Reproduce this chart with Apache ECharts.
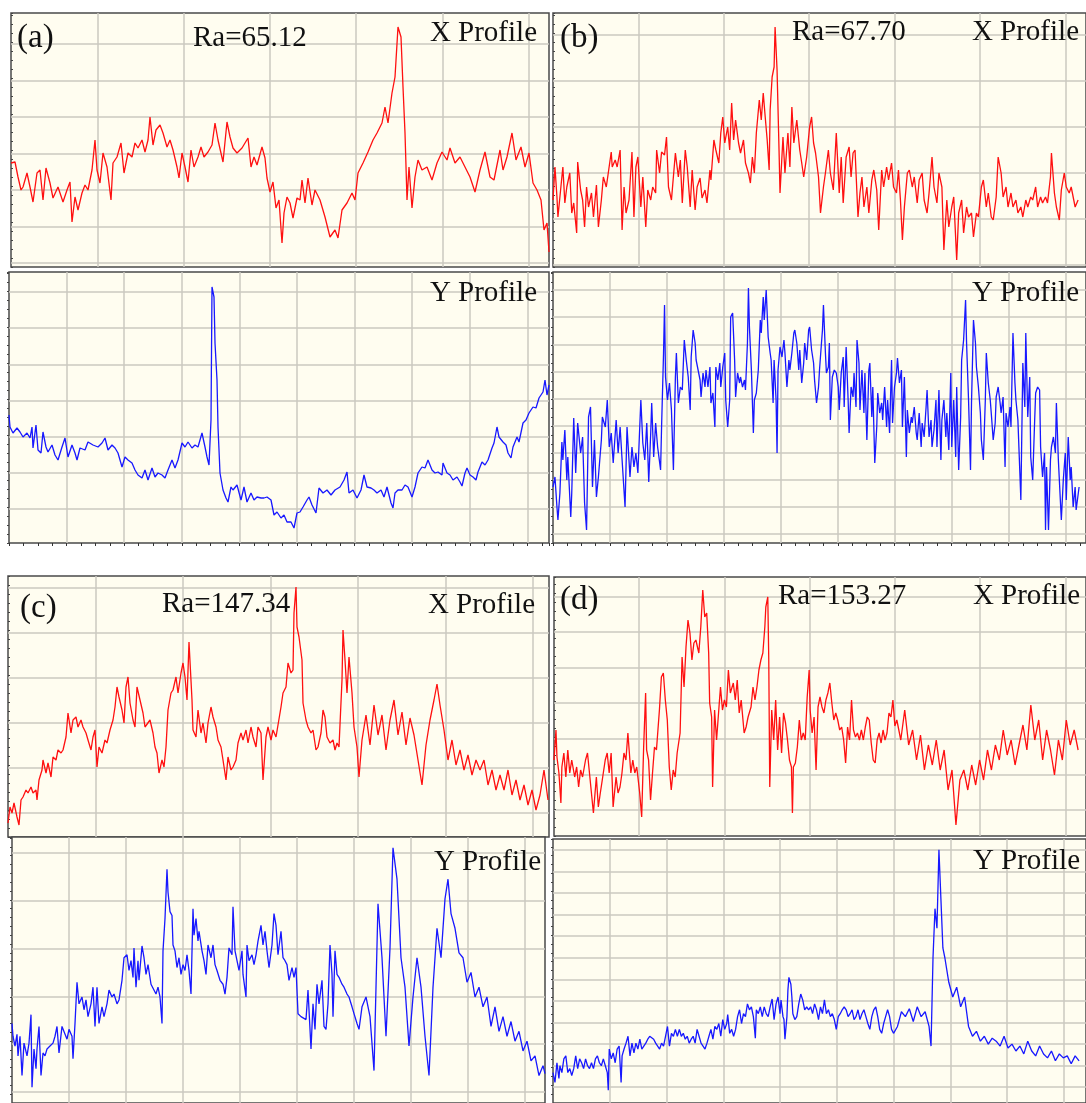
<!DOCTYPE html>
<html><head><meta charset="utf-8">
<script src="https://cdn.jsdelivr.net/npm/echarts@6/dist/echarts.min.js"></script>
<style>html,body{margin:0;padding:0;background:#fff}#c{width:1086px;height:1103px}</style>
</head><body><div id="c"></div>
<script>
// ---- profile data: [distance along profile, height] (arbitrary units)
const aX = [[0,104],[4,105],[7,90],[10,77],[12,80],[16,94],[19,80],[22,65],[26,94],[29,97],[32,67],[35,99],[39,84],[42,69],[47,80],[52,65],[56,77],[59,85],[61,45],[64,70],[67,57],[71,74],[74,82],[77,77],[81,97],[84,127],[86,97],[89,84],[92,114],[96,100],[100,67],[102,104],[106,110],[110,124],[113,94],[117,114],[121,110],[124,124],[127,119],[131,127],[134,115],[137,127],[139,150],[142,122],[145,137],[149,142],[152,134],[156,120],[159,127],[162,117],[166,100],[168,89],[171,114],[174,100],[177,85],[180,117],[183,100],[187,110],[190,120],[193,110],[197,115],[201,122],[204,144],[207,127],[212,105],[216,145],[219,130],[222,119],[226,114],[231,119],[234,124],[237,129],[240,100],[243,110],[246,102],[251,120],[254,109],[256,89],[259,75],[262,85],[265,59],[268,67],[271,24],[273,54],[276,70],[279,64],[282,49],[286,69],[289,67],[291,87],[294,64],[297,89],[301,62],[304,77],[309,67],[314,50],[319,30],[324,37],[327,29],[331,57],[336,64],[341,74],[344,67],[347,94],[352,104],[357,115],[362,127],[366,134],[371,144],[374,160],[377,144],[381,174],[384,190],[387,240],[390,230],[392,180],[394,134],[396,67],[398,100],[401,59],[404,90],[407,107],[411,97],[416,100],[421,87],[426,104],[431,115],[436,107],[439,119],[444,104],[449,110],[454,100],[459,90],[464,75],[469,97],[474,115],[479,90],[483,87],[489,117],[492,97],[496,110],[501,134],[505,107],[510,120],[514,100],[518,114],[522,84],[526,77],[530,67],[533,37],[536,44],[538,15]];
const aY = [[0,128],[1,116],[4,110],[8,115],[11,111],[14,106],[18,110],[21,105],[23,116],[24,95],[27,118],[29,93],[32,90],[34,111],[37,96],[39,91],[43,98],[46,88],[49,83],[53,96],[56,105],[59,86],[63,98],[66,90],[68,83],[71,95],[76,93],[79,101],[84,98],[89,96],[93,100],[96,105],[99,93],[103,98],[106,95],[109,90],[113,76],[116,86],[119,83],[123,80],[126,73],[129,68],[133,65],[136,73],[139,63],[143,75],[146,66],[149,70],[153,68],[156,65],[159,73],[163,83],[166,75],[169,83],[173,100],[176,96],[179,101],[183,95],[186,98],[189,96],[193,110],[196,96],[198,86],[200,78],[202,123],[203,256],[205,246],[206,200],[208,163],[209,116],[211,70],[214,53],[217,45],[219,41],[222,56],[224,53],[228,58],[232,43],[235,56],[238,41],[242,50],[245,43],[248,46],[252,45],[255,45],[258,46],[262,43],[265,28],[268,31],[272,25],[275,28],[278,21],[282,21],[285,15],[288,30],[291,31],[294,36],[298,43],[300,46],[303,38],[307,30],[310,55],[314,50],[318,53],[322,48],[326,53],[331,56],[335,63],[338,71],[340,50],[344,53],[348,45],[352,53],[355,68],[358,56],[362,55],[365,53],[368,50],[372,53],[375,46],[378,56],[382,40],[384,35],[386,50],[389,53],[393,53],[396,58],[399,56],[403,46],[406,56],[409,70],[413,76],[416,75],[419,83],[423,73],[426,70],[429,71],[433,68],[434,80],[438,70],[441,68],[444,63],[448,66],[451,61],[453,57],[456,70],[458,75],[461,68],[464,66],[467,63],[469,71],[473,81],[476,78],[479,83],[483,95],[485,100],[488,116],[490,106],[494,101],[497,98],[499,90],[502,85],[504,96],[508,106],[510,101],[514,120],[517,123],[520,130],[524,136],[527,135],[530,145],[534,151],[536,163],[538,148],[540,158]];
const bX = [[0,67],[2,100],[4,70],[5,50],[8,80],[10,100],[12,64],[14,80],[17,94],[19,54],[21,64],[24,34],[25,105],[28,77],[30,67],[32,40],[34,80],[36,60],[39,74],[41,50],[44,82],[46,40],[49,67],[51,90],[54,80],[56,94],[59,115],[60,100],[63,107],[65,100],[68,117],[70,37],[72,80],[74,54],[77,67],[80,115],[82,50],[84,100],[86,110],[89,60],[91,90],[94,40],[96,77],[99,67],[101,80],[104,74],[105,117],[108,94],[110,115],[113,112],[115,130],[117,80],[120,67],[122,67],[124,114],[127,90],[129,107],[131,64],[134,117],[136,100],[139,60],[141,97],[144,57],[146,80],[149,89],[151,69],[154,77],[156,64],[159,97],[160,87],[163,127],[165,117],[168,104],[170,134],[172,150],[174,124],[177,140],[179,117],[181,164],[183,127],[185,147],[188,124],[190,114],[193,127],[195,104],[198,94],[200,84],[202,110],[204,94],[206,134],[209,167],[211,147],[213,174],[215,150],[217,127],[219,97],[220,157],[222,190],[224,200],[225,240],[227,197],[229,117],[230,74],[233,130],[235,94],[238,134],[240,100],[242,160],[244,124],[247,147],[250,117],[252,104],[254,90],[257,110],[260,140],[262,150],[264,124],[266,114],[269,90],[271,54],[274,80],[276,94],[279,117],[281,94],[284,77],[287,134],[290,74],[292,110],[294,64],[297,110],[300,120],[302,90],[304,114],[306,117],[309,50],[311,74],[313,90],[315,60],[318,80],[320,54],[323,87],[325,97],[328,77],[330,37],[333,97],[335,80],[338,100],[340,87],[343,104],[345,80],[348,74],[350,97],[352,67],[354,27],[356,60],[359,94],[361,97],[364,80],[366,90],[369,64],[371,87],[374,94],[376,67],[379,54],[381,74],[384,110],[386,80],[389,64],[391,94],[394,80],[396,17],[399,67],[401,40],[404,60],[406,70],[409,7],[411,54],[414,67],[416,34],[419,60],[421,50],[424,54],[426,30],[429,54],[431,50],[434,80],[436,87],[439,60],[441,74],[444,50],[446,47],[449,70],[451,110],[454,94],[456,70],[459,80],[461,60],[464,74],[466,60],[469,67],[471,54],[474,60],[476,50],[479,67],[481,60],[484,70],[486,67],[489,80],[491,60],[494,70],[496,64],[499,70],[501,64],[504,90],[505,114],[508,74],[510,60],[513,47],[515,77],[518,94],[520,80],[523,74],[525,80],[529,60],[532,67]];
const bY = [[0,56],[2,66],[4,36],[5,23],[7,50],[9,101],[10,83],[12,113],[14,63],[15,86],[18,26],[19,50],[21,125],[23,70],[25,120],[28,90],[30,106],[32,40],[34,13],[36,126],[38,136],[40,56],[42,103],[44,46],[46,66],[49,103],[50,126],[53,116],[55,143],[57,96],[59,110],[61,80],[64,123],[66,90],[68,116],[70,83],[73,36],[75,116],[78,66],[80,96],[82,76],[84,90],[86,70],[89,143],[91,100],[93,83],[95,120],[97,61],[99,110],[100,140],[102,86],[104,120],[106,96],[109,73],[110,116],[112,190],[113,238],[114,166],[116,143],[118,160],[120,133],[122,73],[124,166],[125,190],[127,140],[129,156],[131,153],[133,203],[135,183],[137,166],[139,133],[140,186],[142,213],[144,200],[145,183],[147,173],[149,163],[150,146],[152,170],[154,156],[155,173],[157,156],[159,176],[160,140],[162,150],[164,116],[165,176],[167,163],[169,180],[170,156],[172,176],[174,190],[175,143],[177,116],[179,143],[180,226],[182,230],[184,183],[185,146],[187,170],[189,160],[190,166],[192,156],[194,163],[195,153],[197,200],[198,255],[199,216],[201,173],[203,110],[204,143],[206,150],[208,173],[210,223],[211,210],[213,246],[214,223],[216,253],[218,206],[220,190],[221,183],[223,140],[224,183],[226,143],[227,90],[228,173],[230,196],[232,186],[234,203],[235,190],[237,156],[239,183],[240,173],[242,190],[244,210],[245,213],[247,200],[249,173],[250,193],[252,160],[254,180],[255,200],[257,183],[259,213],[260,216],[262,193],[264,180],[265,163],[267,140],[269,156],[270,173],[272,200],[273,213],[274,238],[276,190],[277,170],[279,176],[280,200],[281,123],[283,166],[285,173],[287,170],[289,156],[290,133],[292,170],[294,186],[295,136],[297,196],[299,143],[300,110],[302,156],[304,146],[305,170],[307,136],[308,203],[310,180],[311,133],[313,173],[315,130],[316,170],[318,103],[320,173],[321,180],[323,126],[324,156],[326,80],[328,116],[329,150],[331,130],[333,140],[334,123],[336,156],[338,116],[339,143],[341,110],[343,183],[344,120],[346,156],[348,170],[349,185],[351,160],[353,173],[354,116],[356,166],[358,86],[359,133],[361,110],[363,126],[364,120],[366,136],[368,110],[369,103],[371,130],[373,96],[374,120],[376,106],[378,136],[379,153],[381,106],[383,123],[384,96],[386,113],[388,143],[389,96],[391,153],[393,83],[394,123],[396,143],[398,106],[399,130],[401,93],[403,170],[404,96],[406,143],[408,86],[409,156],[411,73],[413,126],[414,183],[416,203],[418,243],[419,200],[421,143],[423,73],[424,140],[426,223],[428,200],[429,176],[431,156],[433,130],[434,103],[436,83],[438,143],[439,190],[441,160],[443,143],[444,130],[446,103],[448,120],[449,146],[451,156],[453,140],[454,130],[456,146],[458,76],[459,130],[461,116],[463,136],[464,116],[466,210],[468,160],[469,143],[471,123],[473,70],[474,43],[476,180],[478,136],[479,210],[481,126],[483,166],[484,86],[486,63],[488,123],[489,150],[491,156],[493,153],[494,96],[496,66],[498,90],[499,13],[500,76],[502,13],[504,83],[505,96],[507,106],[509,90],[510,140],[512,83],[514,43],[515,23],[517,63],[519,90],[520,43],[522,106],[524,63],[525,76],[527,36],[529,56],[530,33],[533,56]];
const cX = [[0,14],[2,30],[4,24],[6,34],[9,20],[11,12],[13,37],[15,40],[18,47],[20,44],[23,50],[25,44],[28,47],[29,37],[31,57],[34,67],[35,77],[38,64],[40,74],[43,60],[45,80],[48,77],[50,87],[53,84],[55,87],[58,100],[60,124],[63,104],[65,117],[68,120],[70,110],[73,117],[75,110],[78,104],[80,97],[83,87],[85,100],[87,107],[89,70],[91,90],[94,84],[97,97],[99,94],[102,107],[105,117],[107,130],[109,150],[111,140],[114,127],[116,114],[118,150],[120,160],[122,134],[125,117],[127,110],[129,150],[132,137],[135,124],[137,110],[139,110],[142,117],[145,104],[147,90],[149,84],[151,64],[154,77],[156,70],[158,90],[160,127],[163,144],[165,147],[168,160],[170,144],[173,164],[175,174],[177,160],[179,137],[181,195],[184,137],[185,107],[188,100],[190,127],[193,104],[195,114],[198,94],[200,114],[203,130],[205,120],[208,110],[210,97],[213,90],[215,77],[218,57],[220,80],[223,67],[225,70],[228,77],[230,94],[233,104],[235,97],[238,107],[240,94],[243,110],[245,100],[248,90],[250,110],[253,104],[255,57],[258,100],[260,110],[263,97],[265,107],[268,100],[270,100],[273,130],[275,144],[278,150],[280,174],[283,164],[285,167],[286,224],[288,250],[289,210],[291,200],[294,177],[295,134],[298,117],[300,110],[303,104],[305,107],[308,87],[310,90],[313,104],[315,127],[317,120],[319,100],[322,94],[325,97],[327,87],[329,94],[331,90],[334,157],[335,207],[337,177],[339,144],[341,180],[344,144],[346,110],[349,90],[351,60],[354,97],[358,122],[362,92],[366,132],[370,102],[374,122],[378,87],[382,117],[386,137],[390,102],[394,125],[398,92],[402,119],[406,102],[410,77],[414,52],[418,92],[422,117],[426,137],[429,153],[432,132],[436,107],[440,77],[444,97],[448,72],[452,87],[456,67],[460,82],[464,62],[468,77],[472,67],[476,77],[480,52],[484,67],[488,47],[492,62],[496,47],[500,67],[504,42],[508,57],[512,37],[516,52],[520,32],[524,47],[528,27],[532,42],[536,67],[540,37]];
const cY = [[0,81],[1,68],[3,58],[5,70],[6,48],[8,68],[10,28],[12,61],[15,48],[17,61],[19,90],[20,16],[22,55],[24,35],[25,55],[27,78],[29,28],[31,51],[33,48],[35,55],[38,58],[41,61],[43,68],[45,78],[47,51],[50,78],[52,80],[55,65],[57,75],[60,68],[61,45],[63,81],[65,123],[67,101],[70,108],[72,95],[74,105],[76,88],[79,101],[81,118],[83,78],[85,118],[87,81],[90,98],[92,88],[95,101],[97,115],[100,108],[102,111],[105,101],[107,105],[110,125],[112,148],[115,151],[117,135],[119,145],[121,128],[122,158],[124,118],[126,145],[127,125],[130,160],[132,148],[134,131],[136,141],[139,121],[141,121],[144,111],[146,118],[148,108],[150,81],[151,155],[153,188],[155,238],[156,215],[158,195],[160,191],[161,161],[163,155],[165,138],[167,148],[169,131],[171,141],[173,135],[175,151],[177,135],[179,111],[181,198],[182,171],[184,188],[186,165],[187,175],[190,155],[192,145],[194,131],[196,161],[199,148],[201,161],[203,141],[205,135],[208,125],[211,121],[213,111],[215,128],[217,158],[220,151],[221,200],[223,155],[225,155],[227,135],[230,155],[231,131],[234,108],[235,161],[237,145],[240,151],[242,141],[244,151],[246,165],[249,181],[251,161],[253,175],[255,155],[257,138],[260,161],[262,193],[264,181],[266,151],[269,175],[271,148],[273,145],[275,141],[277,125],[280,138],[282,128],[284,138],[286,91],[289,88],[291,88],[294,85],[296,115],[299,55],[301,101],[303,75],[305,121],[307,101],[310,125],[312,78],[314,75],[316,101],[318,161],[320,131],[321,88],[323,155],[325,131],[327,128],[330,121],[332,118],[335,111],[337,108],[340,98],[342,91],[345,81],[347,75],[350,98],[354,108],[358,88],[362,33],[366,203],[370,148],[374,68],[378,158],[381,260],[385,228],[389,148],[393,118],[397,58],[401,108],[405,148],[409,118],[413,68],[417,28],[421,118],[425,178],[429,148],[433,208],[436,228],[439,193],[443,178],[447,153],[451,148],[455,123],[459,133],[463,108],[467,118],[471,98],[475,108],[479,78],[483,98],[487,73],[491,88],[495,68],[499,83],[503,63],[507,73],[511,53],[515,63],[519,43],[523,48],[527,28],[531,38],[533,30]];
const dX = [[0,76],[2,106],[3,79],[5,63],[7,33],[8,69],[10,83],[12,59],[14,86],[16,63],[18,76],[21,59],[23,69],[25,49],[27,66],[29,59],[32,76],[34,83],[36,63],[38,43],[40,23],[43,59],[45,29],[47,43],[49,56],[52,76],[54,83],[56,63],[58,83],[60,29],[63,59],[65,43],[67,49],[69,63],[71,83],[73,76],[75,103],[78,63],[80,76],[82,63],[84,69],[87,43],[89,19],[91,89],[93,143],[94,86],[96,76],[98,36],[100,63],[102,89],[104,86],[107,126],[109,159],[111,163],[113,136],[115,116],[117,69],[119,46],[121,66],[123,59],[125,83],[128,103],[130,179],[132,149],[134,189],[136,216],[138,203],[140,176],[142,193],[144,196],[147,183],[149,209],[151,246],[153,219],[155,223],[157,183],[158,133],[160,119],[161,49],[163,126],[165,96],[168,136],[169,149],[171,126],[173,136],[175,129],[177,166],[179,143],[182,153],[184,136],[186,156],[188,123],[190,136],[193,103],[195,109],[197,119],[200,129],[202,149],[204,136],[206,149],[208,166],[210,176],[212,183],[214,209],[215,229],[217,239],[218,176],[219,49],[221,126],[223,96],[225,136],[227,86],[229,119],[231,83],[233,123],[235,113],[237,96],[239,76],[241,69],[242,23],[243,69],[245,73],[247,89],[249,116],[251,96],[253,103],[255,96],[257,139],[259,166],[260,126],[262,103],[264,119],[266,66],[268,129],[270,139],[272,129],[274,123],[276,136],[278,143],[280,153],[282,133],[284,116],[286,123],[288,116],[290,106],[292,109],[294,96],[296,73],[298,109],[300,96],[302,136],[304,106],[306,99],[308,103],[310,96],[312,106],[314,96],[316,109],[318,119],[320,116],[322,93],[324,76],[326,73],[328,96],[330,103],[332,93],[334,106],[336,96],[338,103],[340,123],[342,119],[344,136],[346,110],[348,116],[352,96],[356,126],[360,91],[364,106],[368,76],[372,101],[376,66],[380,91],[384,71],[388,96],[392,66],[396,86],[400,46],[404,66],[408,11],[412,56],[416,66],[420,46],[424,71],[428,51],[432,76],[436,56],[440,86],[444,66],[448,91],[452,76],[456,106],[460,81],[464,96],[468,71],[472,91],[476,111],[480,86],[484,131],[488,96],[492,116],[496,76],[500,106],[504,86],[508,61],[512,96],[516,76],[520,116],[524,91],[528,106],[532,86]];
const dY = [[0,31],[2,21],[4,41],[6,25],[7,38],[9,31],[11,45],[13,48],[15,31],[17,35],[19,28],[21,35],[23,48],[25,35],[27,45],[29,41],[31,35],[33,45],[35,38],[37,35],[39,41],[41,35],[43,45],[45,48],[47,41],[49,38],[51,45],[53,38],[55,31],[56,13],[57,55],[59,45],[61,51],[63,41],[65,55],[67,58],[69,21],[70,48],[72,55],[74,61],[76,68],[78,48],[80,61],[82,51],[84,61],[86,55],[88,65],[90,55],[92,58],[94,61],[96,65],[98,68],[100,70],[102,65],[104,61],[106,58],[108,55],[110,61],[112,58],[114,68],[116,78],[118,58],[120,71],[122,68],[124,75],[126,68],[128,75],[130,68],[132,71],[134,65],[136,68],[138,61],[140,65],[142,68],[144,61],[146,75],[148,68],[150,61],[152,58],[154,55],[156,61],[158,68],[160,75],[162,65],[164,78],[166,75],[168,81],[170,68],[172,85],[174,75],[176,81],[177,90],[179,71],[181,75],[183,68],[185,75],[187,88],[189,95],[191,81],[193,91],[195,88],[197,101],[199,95],[201,98],[203,88],[205,66],[206,95],[208,91],[210,98],[212,88],[214,98],[216,91],[218,88],[220,98],[222,106],[224,85],[226,101],[228,108],[230,91],[231,105],[233,88],[234,85],[235,65],[237,88],[238,115],[239,128],[241,121],[242,108],[243,91],[245,85],[247,88],[249,101],[251,111],[253,105],[255,95],[257,98],[259,95],[261,98],[263,91],[265,101],[267,95],[269,85],[271,98],[273,91],[275,105],[277,91],[279,95],[281,88],[283,91],[285,85],[287,75],[289,88],[291,91],[293,95],[295,98],[297,95],[299,88],[301,91],[303,95],[305,85],[307,88],[309,95],[311,85],[313,91],[315,95],[317,88],[319,81],[321,75],[323,88],[325,95],[327,98],[329,88],[331,75],[333,71],[335,81],[337,88],[339,95],[341,88],[343,75],[345,71],[349,78],[353,93],[357,88],[361,96],[365,83],[369,98],[373,88],[377,93],[381,78],[383,58],[385,148],[387,198],[389,178],[391,258],[393,208],[395,158],[397,148],[401,123],[405,108],[409,118],[413,98],[417,108],[421,78],[425,68],[429,73],[433,63],[437,68],[441,60],[445,66],[449,63],[453,58],[457,68],[461,56],[465,60],[469,53],[473,58],[477,50],[481,63],[485,53],[489,48],[493,58],[497,50],[501,46],[505,53],[509,43],[513,50],[517,46],[521,48],[525,40],[529,48],[533,43]];

const panelTags = ['(a)', '(b)', '(c)', '(d)'];
const raLabels = ['Ra=65.12', 'Ra=67.70', 'Ra=147.34', 'Ra=153.27'];
const profileNames = ['X Profile', 'Y Profile'];

// ---- layout / style
const RED = '#ff1010', BLUE = '#1818ff', GRIDC = '#cbc8c0', BG = '#fffdf0', FRAME = '#4a4a4a';
const panels = [
  {d: aX, c: RED,  l: 11,  t: 13,  w: 538, h: 254, vg: 86.3, hb: 263,  hg: 36.5,  ticks: false},
  {d: aY, c: BLUE, l: 9,   t: 272, w: 540, h: 271, vg: 57.6, hb: 509,  hg: 36.17, ticks: true},
  {d: bX, c: RED,  l: 553, t: 13,  w: 540, h: 254, vg: 86.5, hb: 265,  hg: 46,    ticks: false},
  {d: bY, c: BLUE, l: 553, t: 272, w: 540, h: 271, vg: 57.7, hb: 534,  hg: 27.1,  ticks: true},
  {d: cX, c: RED,  l: 8,   t: 576, w: 541, h: 261, vg: 87.5, hb: 813,  hg: 45,    ticks: false},
  {d: cY, c: BLUE, l: 12,  t: 837, w: 533, h: 271, vg: 57,   hb: 1092, hg: 47.8,  ticks: true},
  {d: dX, c: RED,  l: 554, t: 577, w: 540, h: 259, vg: 86.5, hb: 810,  hg: 35.6,  ticks: false},
  {d: dY, c: BLUE, l: 553, t: 839, w: 540, h: 269, vg: 57.5, hb: 1087, hg: 21.55, ticks: true}
];

const grids = [], xAxes = [], yAxes = [], series = [];
panels.forEach((p) => {
  const g = grids.length;
  grids.push({left: p.l, top: p.t, width: p.w, height: p.h, show: true, backgroundColor: BG, borderColor: FRAME, borderWidth: 1.5, z: 0});
  grids.push({left: p.l, top: p.t, width: p.w, height: p.hb - p.t, show: false});
  xAxes.push({gridIndex: g, type: 'value', min: 0, max: p.w, interval: p.vg, z: 1,
    axisLine: {show: false}, axisLabel: {show: false},
    axisTick: {show: p.ticks, length: 3, lineStyle: {color: '#333', width: 1}},
    minorTick: {show: p.ticks, splitNumber: 4, length: 3, lineStyle: {color: '#333', width: 1}},
    splitLine: {show: true, showMinLine: false, showMaxLine: false, lineStyle: {color: GRIDC, width: 1.5}}});
  yAxes.push({gridIndex: g, type: 'value', min: 0, max: p.h, interval: 9, z: 1,
    axisLine: {show: false}, axisLabel: {show: false},
    axisTick: {show: true, inside: !p.ticks, length: 2, lineStyle: {color: '#444', width: 1}},
    splitLine: {show: false}});
  xAxes.push({gridIndex: g + 1, type: 'value', min: 0, max: 1, show: false});
  yAxes.push({gridIndex: g + 1, type: 'value', min: 0, max: (p.hb - p.t) / p.hg, interval: 1, z: 1,
    axisLine: {show: false}, axisLabel: {show: false}, axisTick: {show: false},
    splitLine: {show: true, showMaxLine: false, lineStyle: {color: GRIDC, width: 1.5}}});
  series.push({type: 'line', xAxisIndex: g, yAxisIndex: g, data: p.d, symbol: 'none', showSymbol: false,
    lineStyle: {color: p.c, width: 1.3}, z: 3, animation: false, silent: true});
});

const FAMILY = '"Liberation Serif", "Times New Roman", serif';
const FONT = '29px ' + FAMILY, TAGFONT = '33px ' + FAMILY;
const texts = [
  [panelTags[0], 17, 48, 'left', TAGFONT], [raLabels[0], 193, 48, 'left', FONT], [profileNames[0], 537, 43, 'right', FONT], [profileNames[1], 537, 303, 'right', FONT],
  [panelTags[1], 560, 48, 'left', TAGFONT], [raLabels[1], 792, 42, 'left', FONT], [profileNames[0], 1079, 42, 'right', FONT], [profileNames[1], 1079, 303, 'right', FONT],
  [panelTags[2], 20, 618, 'left', TAGFONT], [raLabels[2], 162, 614, 'left', FONT], [profileNames[0], 535, 615, 'right', FONT], [profileNames[1], 541, 872, 'right', FONT],
  [panelTags[3], 560, 610, 'left', TAGFONT], [raLabels[3], 778, 606, 'left', FONT], [profileNames[0], 1080, 606, 'right', FONT], [profileNames[1], 1080, 871, 'right', FONT]
];
const graphic = texts.map(([t, x, y, a, f]) => ({type: 'text', x: x, y: y - 10, z: 100,
  style: {text: t, font: f, fill: '#111', align: a, verticalAlign: 'middle'}}));

const chart = echarts.init(document.getElementById('c'));
chart.setOption({animation: false, grid: grids, xAxis: xAxes, yAxis: yAxes, series: series, graphic: graphic});
</script></body></html>
